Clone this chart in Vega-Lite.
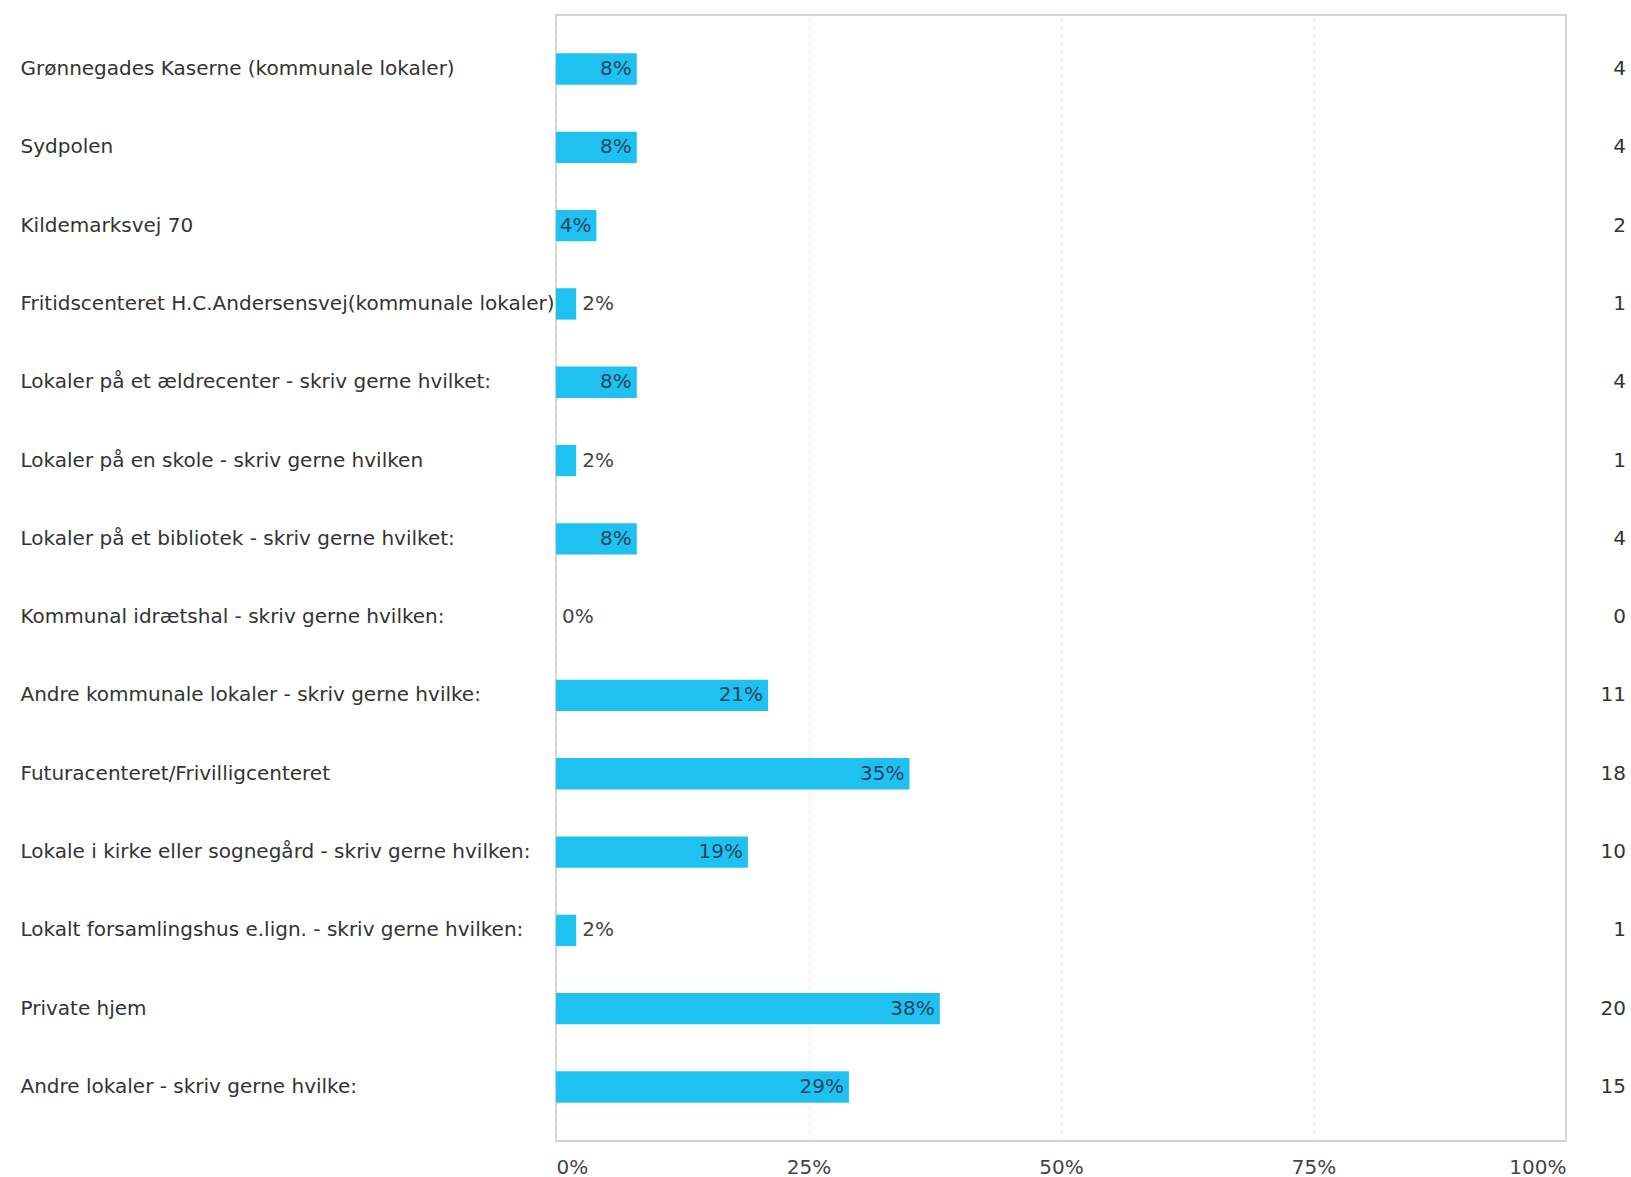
{
  "$schema": "https://vega.github.io/schema/vega-lite/v6.json",
  "autosize": "none",
  "padding": {"left": 556, "top": 15, "right": 65, "bottom": 36},
  "width": 1010,
  "height": 1126,
  "background": "white",
  "config": {
    "font": "DejaVu Sans",
    "view": {"stroke": "#c4c4c4", "strokeWidth": 1.5}
  },
  "data": {
    "values": [
      {"label": "Grønnegades Kaserne (kommunale lokaler)", "pct": 8, "n": 4},
      {"label": "Sydpolen", "pct": 8, "n": 4},
      {"label": "Kildemarksvej 70", "pct": 4, "n": 2},
      {"label": "Fritidscenteret H.C.Andersensvej(kommunale lokaler)", "pct": 2, "n": 1},
      {"label": "Lokaler på et ældrecenter - skriv gerne hvilket:", "pct": 8, "n": 4},
      {"label": "Lokaler på en skole - skriv gerne hvilken", "pct": 2, "n": 1},
      {"label": "Lokaler på et bibliotek - skriv gerne hvilket:", "pct": 8, "n": 4},
      {"label": "Kommunal idrætshal - skriv gerne hvilken:", "pct": 0, "n": 0},
      {"label": "Andre kommunale lokaler - skriv gerne hvilke:", "pct": 21, "n": 11},
      {"label": "Futuracenteret/Frivilligcenteret", "pct": 35, "n": 18},
      {"label": "Lokale i kirke eller sognegård - skriv gerne hvilken:", "pct": 19, "n": 10},
      {"label": "Lokalt forsamlingshus e.lign. - skriv gerne hvilken:", "pct": 2, "n": 1},
      {"label": "Private hjem", "pct": 38, "n": 20},
      {"label": "Andre lokaler - skriv gerne hvilke:", "pct": 29, "n": 15}
    ]
  },
  "encoding": {
    "y": {
      "field": "label",
      "type": "nominal",
      "sort": null,
      "title": null,
      "scale": {"paddingInner": 0.6, "paddingOuter": 0.49},
      "axis": {
        "ticks": false,
        "tickSize": 0,
        "domain": false,
        "labelAlign": "left",
        "labelPadding": 536,
        "labelFontSize": 20,
        "labelColor": "#333333",
        "labelLimit": 600
      }
    }
  },
  "layer": [
    {
      "mark": {"type": "bar", "color": "#1fc1f0"},
      "encoding": {
        "x": {
          "field": "pct",
          "type": "quantitative",
          "title": null,
          "scale": {"domain": [0, 100], "nice": false},
          "axis": {
            "values": [0, 25, 50, 75, 100],
            "labelExpr": "datum.value + '%'",
            "labelFlush": true,
            "ticks": false,
            "tickSize": 0,
            "domain": false,
            "labelPadding": 16,
            "labelFontSize": 20,
            "labelColor": "#444444",
            "grid": true,
            "gridColor": "#e4e4e4",
            "gridDash": [4, 4],
            "gridWidth": 1
          }
        }
      }
    },
    {
      "mark": {"type": "rule", "color": "#c4c4c4", "strokeWidth": 1.5},
      "encoding": {"x": {"datum": 0}}
    },
    {
      "transform": [{"filter": "datum.pct >= 4"}],
      "mark": {"type": "text", "align": "right", "baseline": "middle", "dx": -5, "fontSize": 20, "color": "#1d4660", "text": {"expr": "datum.pct + '%'"}},
      "encoding": {
        "x": {"field": "pct", "type": "quantitative"}
      }
    },
    {
      "transform": [{"filter": "datum.pct < 4"}],
      "mark": {"type": "text", "align": "left", "baseline": "middle", "dx": 6, "fontSize": 20, "color": "#444444", "text": {"expr": "datum.pct + '%'"}},
      "encoding": {
        "x": {"field": "pct", "type": "quantitative"}
      }
    },
    {
      "mark": {"type": "text", "align": "right", "baseline": "middle", "dx": 60, "fontSize": 20, "color": "#333333"},
      "encoding": {
        "x": {"datum": 100},
        "text": {"field": "n", "type": "quantitative"}
      }
    }
  ]
}
